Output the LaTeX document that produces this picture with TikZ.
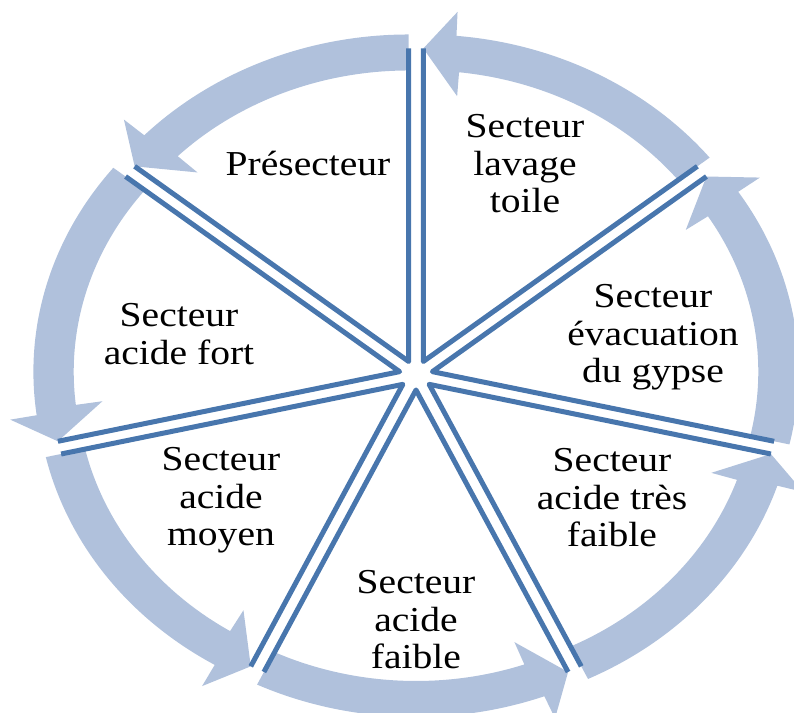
\documentclass[tikz,border=0pt]{standalone}
\usepackage{fontspec}
\setmainfont{Liberation Serif}[FakeStretch=1.13]
\begin{document}
\begin{tikzpicture}[x=1pt,y=1pt]
\definecolor{bandfill}{RGB}{176,193,220}
\definecolor{spokeblue}{RGB}{72,118,173}
\tikzset{
  flow/.style={fill=bandfill, draw=none},
  wedge/.style={draw=spokeblue, line width=5pt, line join=round},
  sectorlabel/.style={font=\fontsize{35}{37.5}\selectfont, align=center, inner sep=0pt, text=black}
}
\useasboundingbox (0,0) rectangle (794,712);
% seven exploded pie sectors, each with its own circular arrow
\begin{scope}[shift={(416,337)}, xscale=1.12]
  \foreach \k in {0,...,6} {
    \pgfmathsetmacro\a{38.5714+51.4286*\k}
    \pgfmathsetmacro\b{\a+51.4286}
    \pgfmathsetmacro\m{\a+25.7143}
    \begin{scope}[shift={(\m:15)}]
      \fill[flow] (\a:291) -- (\a:327)
        arc[start angle=\a, end angle=\b-5.2, radius=327]
        -- (\b-5:351) -- (\b:313) -- (\b-6.5:267) -- (\b-6.3:291)
        arc[start angle=\b-6.3, end angle=\a, radius=291] -- cycle;
    \end{scope}
  }
  \foreach \k in {0,...,6} {
    \pgfmathsetmacro\a{38.5714+51.4286*\k}
    \pgfmathsetmacro\b{\a+51.4286}
    \pgfmathsetmacro\m{\a+25.7143}
    \begin{scope}[shift={(\m:15)}]
      \draw[wedge] (\a:313) -- (0,0) -- (\b:313);
    \end{scope}
  }
\end{scope}
% sector labels
\node[sectorlabel] (pre) at (308,548) {Présecteur};
\node[sectorlabel] (lav) at (525,548) {Secteur\\lavage\\toile};
\node[sectorlabel] (evac) at (653,374.5) {Secteur\\évacuation\\du gypse};
\node[sectorlabel] (tfaible) at (612,214) {Secteur\\acide très\\faible};
\node[sectorlabel] (faible) at (416,92) {Secteur\\acide\\faible};
\node[sectorlabel] (moyen) at (221,211.5) {Secteur\\acide\\moyen};
\node[sectorlabel] (fort) at (179,378) {Secteur\\acide fort};
\end{tikzpicture}
\end{document}
